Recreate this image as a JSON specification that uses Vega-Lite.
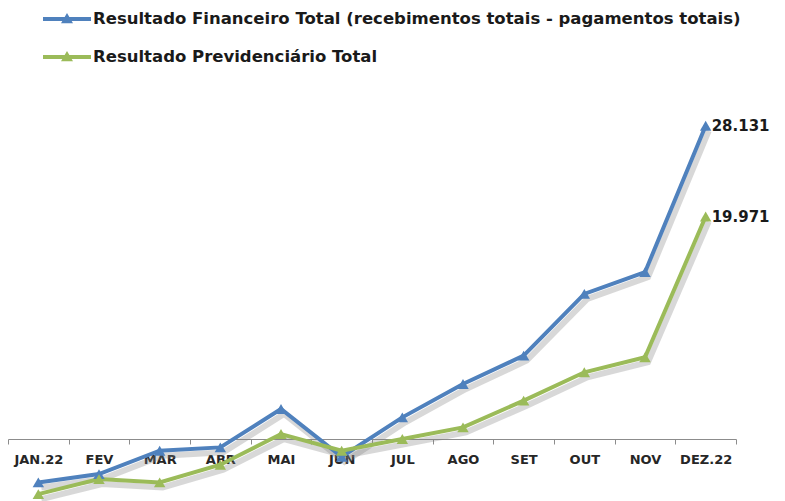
{
  "$schema": "https://vega.github.io/schema/vega-lite/v6.json",
  "width": 728,
  "height": 396,
  "autosize": {"type": "none"},
  "padding": {"left": 8, "top": 105, "right": 49, "bottom": 0},
  "background": "white",
  "config": {
    "view": {"stroke": null},
    "font": "DejaVu Sans",
    "locale": {"number": {"decimal": ",", "thousands": ".", "grouping": [3], "currency": ["R$", ""]}}
  },
  "data": {
    "values": [
      {"mes": "JAN.22", "serie": "Resultado Financeiro Total (recebimentos totais - pagamentos totais)", "valor": -3930},
      {"mes": "FEV", "serie": "Resultado Financeiro Total (recebimentos totais - pagamentos totais)", "valor": -3180},
      {"mes": "MAR", "serie": "Resultado Financeiro Total (recebimentos totais - pagamentos totais)", "valor": -1080},
      {"mes": "ABR", "serie": "Resultado Financeiro Total (recebimentos totais - pagamentos totais)", "valor": -780},
      {"mes": "MAI", "serie": "Resultado Financeiro Total (recebimentos totais - pagamentos totais)", "valor": 2670},
      {"mes": "JUN", "serie": "Resultado Financeiro Total (recebimentos totais - pagamentos totais)", "valor": -1620},
      {"mes": "JUL", "serie": "Resultado Financeiro Total (recebimentos totais - pagamentos totais)", "valor": 1920},
      {"mes": "AGO", "serie": "Resultado Financeiro Total (recebimentos totais - pagamentos totais)", "valor": 4920},
      {"mes": "SET", "serie": "Resultado Financeiro Total (recebimentos totais - pagamentos totais)", "valor": 7470},
      {"mes": "OUT", "serie": "Resultado Financeiro Total (recebimentos totais - pagamentos totais)", "valor": 13020},
      {"mes": "NOV", "serie": "Resultado Financeiro Total (recebimentos totais - pagamentos totais)", "valor": 14970},
      {"mes": "DEZ.22", "serie": "Resultado Financeiro Total (recebimentos totais - pagamentos totais)", "valor": 28131},
      {"mes": "JAN.22", "serie": "Resultado Previdenciário Total", "valor": -4980},
      {"mes": "FEV", "serie": "Resultado Previdenciário Total", "valor": -3630},
      {"mes": "MAR", "serie": "Resultado Previdenciário Total", "valor": -3930},
      {"mes": "ABR", "serie": "Resultado Previdenciário Total", "valor": -2340},
      {"mes": "MAI", "serie": "Resultado Previdenciário Total", "valor": 420},
      {"mes": "JUN", "serie": "Resultado Previdenciário Total", "valor": -1080},
      {"mes": "JUL", "serie": "Resultado Previdenciário Total", "valor": -30},
      {"mes": "AGO", "serie": "Resultado Previdenciário Total", "valor": 1020},
      {"mes": "SET", "serie": "Resultado Previdenciário Total", "valor": 3420},
      {"mes": "OUT", "serie": "Resultado Previdenciário Total", "valor": 5970},
      {"mes": "NOV", "serie": "Resultado Previdenciário Total", "valor": 7320},
      {"mes": "DEZ.22", "serie": "Resultado Previdenciário Total", "valor": 19971}
    ]
  },
  "encoding": {
    "x": {
      "field": "mes", "type": "nominal", "sort": null,
      "scale": {"type": "band", "paddingInner": 0, "paddingOuter": 0},
      "axis": {
        "title": null, "labelAngle": 0, "offset": -62, "tickBand": "extent",
        "domainColor": "#8c8c8c", "tickColor": "#8c8c8c", "tickSize": 5,
        "labelFont": "DejaVu Sans", "labelFontWeight": "bold", "labelFontSize": 13,
        "labelColor": "#262626", "labelPadding": 9
      }
    },
    "y": {
      "field": "valor", "type": "quantitative",
      "scale": {"domain": [-5600, 30000], "nice": false, "zero": false},
      "axis": null
    }
  },
  "layer": [
    {
      "mark": {"type": "line", "stroke": "#7f7f7f", "strokeWidth": 6, "opacity": 0.3, "xOffset": 3, "yOffset": 5},
      "encoding": {"detail": {"field": "serie"}}
    },
    {
      "mark": {"type": "line", "strokeWidth": 4},
      "encoding": {
        "color": {
          "field": "serie", "type": "nominal",
          "scale": {"range": ["#4f81bd", "#9bbb59"]},
          "legend": {
            "title": null, "orient": "none", "legendX": 47, "legendY": -98,
            "direction": "vertical", "rowPadding": 17,
            "symbolType": "M-2,-0.17L2,-0.17L2,0.17L-2,0.17Z M-0.5,0.35L0,-0.5L0.5,0.35Z",
            "symbolSize": 576, "symbolStrokeWidth": 0, "symbolOpacity": 1,
            "labelFont": "DejaVu Sans", "labelFontSize": 16.5, "labelColor": "#1a1a1a", "labelFontWeight": "bold",
            "labelLimit": 0, "labelOffset": 14
          }
        }
      }
    },
    {
      "mark": {"type": "point", "shape": "triangle-up", "filled": true, "size": 130, "opacity": 1},
      "encoding": {
        "color": {"field": "serie", "type": "nominal", "legend": null}
      }
    },
    {
      "transform": [{"filter": "datum.mes === 'DEZ.22'"}],
      "mark": {"type": "text", "align": "left", "baseline": "middle", "dx": 6, "fontWeight": "bold", "fontSize": 15, "font": "DejaVu Sans", "color": "#1a1a1a"},
      "encoding": {
        "text": {"field": "valor", "type": "quantitative", "format": ",d"}
      }
    }
  ]
}
